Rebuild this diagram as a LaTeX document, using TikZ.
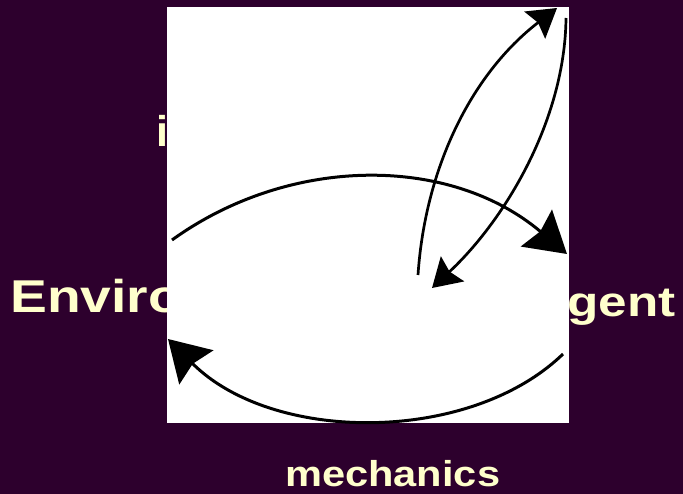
\documentclass[tikz,border=0pt]{standalone}
\usepackage{fontspec}
\setmainfont{Liberation Sans}
\usepackage{tikz}
\usetikzlibrary{arrows.meta,positioning}
\definecolor{SlidePlum}{RGB}{45,0,45}
\definecolor{PaleCream}{RGB}{255,255,204}

\begin{document}
\begin{tikzpicture}[
    x=1pt, y=-1pt,
    label/.style={anchor=base west, inner sep=0pt, text=PaleCream, font=\bfseries},
    sheet/.style={fill=white, draw=none, minimum width=402pt, minimum height=416pt, inner sep=0pt},
    flow/.style={draw, line width=3pt, black, -{Stealth[length=40pt, width=48pt, inset=5pt]}},
    link/.style={draw, line width=2.7pt, black, -{Stealth[length=28pt, width=34pt, inset=4pt]}}
]
    \fill[SlidePlum] (0,0) rectangle (683,494);
    \useasboundingbox (0,0) rectangle (683,494);

    % words behind the picture
    \node[label, xscale=1.2, font=\bfseries\fontsize{46}{50}\selectfont] (env) at (10,313) {Enviro};
    \node[label, xscale=1.22, font=\bfseries\fontsize{42}{46}\selectfont] (agent) at (567,317) {gent};
    \node[label, font=\bfseries\fontsize{43}{46}\selectfont] (info) at (156,147) {i};
    \node[label, xscale=1.155, font=\bfseries\fontsize{36}{40}\selectfont] (mech) at (285,486) {mechanics};

    % pasted picture
    \node[sheet] (pic) at (368,215) {};

    \coordinate (topL) at (172,240);
    \coordinate (topR) at (567,254);
    \coordinate (botR) at (563,354);
    \coordinate (botL) at (168,339);
    \coordinate (upA) at (418,275);
    \coordinate (upTip) at (557,8);
    \coordinate (downB) at (566,18);
    \coordinate (downTip) at (432,288);

    \draw[flow] (topL) .. controls (290,155) and (450,155) .. (topR);
    \draw[flow] (botR) .. controls (470,444) and (273,444) .. (botL);
    \draw[link] (upA) .. controls (425,170) and (470,75) .. (upTip);
    \draw[link] (downB) .. controls (565,120) and (505,220) .. (downTip);
\end{tikzpicture}
\end{document}
